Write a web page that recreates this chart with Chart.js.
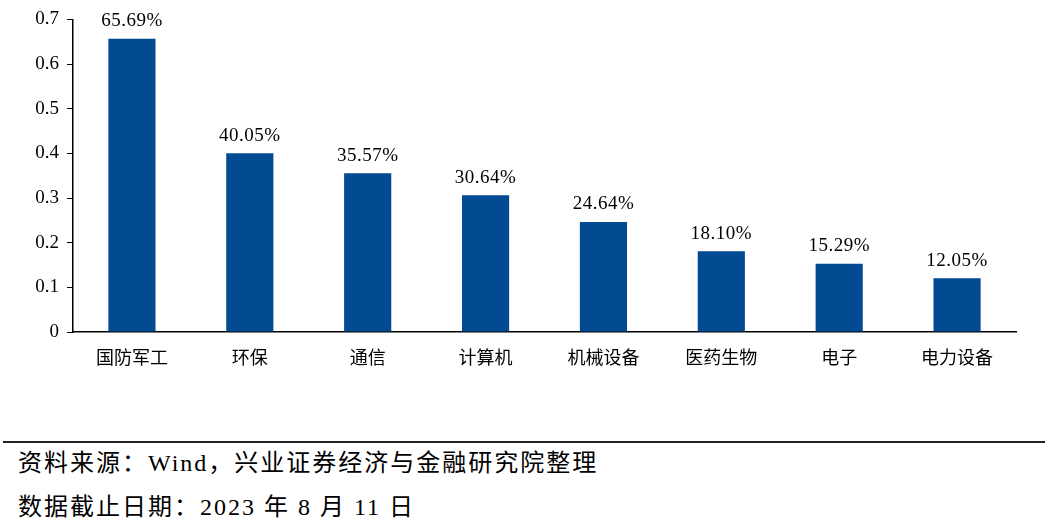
<!DOCTYPE html>
<html>
<head>
<meta charset="utf-8">
<script src="https://cdn.jsdelivr.net/npm/chart.js@4"></script>
<style>
  html, body { margin: 0; padding: 0; background: #fff; }
  body { width: 1063px; height: 524px; position: relative; overflow: hidden; }
  #wrap { position: absolute; left: 0; top: 0; width: 1063px; height: 380px; }
  #rule { position: absolute; left: 3px; top: 441px; width: 1042px; height: 0; border-top: 2px solid #222; }
  .note { position: absolute; left: 18px; font-family: "Liberation Serif", "Noto Sans CJK SC", serif; font-size: 24px; letter-spacing: 2px; line-height: 34px; color: #000; white-space: nowrap; }
</style>
</head>
<body>
<div id="wrap"><canvas id="chart"></canvas></div>
<div id="rule"></div>
<div class="note" style="top:446px">资料来源：Wind，兴业证券经济与金融研究院整理</div>
<div class="note" style="top:490px">数据截止日期：2023 年 8 月 11 日</div>
<script>
// categories and values
const industries = ['国防军工', '环保', '通信', '计算机', '机械设备', '医药生物', '电子', '电力设备'];
const gains = [0.6569, 0.4005, 0.3557, 0.3064, 0.2464, 0.1810, 0.1529, 0.1205];
const yTicks = [0, 0.1, 0.2, 0.3, 0.4, 0.5, 0.6, 0.7];

const BAR_BLUE = '#024a91';
const SERIF = '"Liberation Serif", "Times New Roman", serif';
const CJK = '"Noto Sans CJK SC", sans-serif';

// value labels above each bar
const barLabels = {
  id: 'barLabels',
  afterDatasetsDraw(chart) {
    const { ctx } = chart;
    const meta = chart.getDatasetMeta(0);
    ctx.save();
    ctx.font = '19px ' + SERIF;
    ctx.letterSpacing = '0.5px';
    ctx.fillStyle = '#000';
    ctx.textAlign = 'center';
    ctx.textBaseline = 'bottom';
    meta.data.forEach((bar, i) => {
      ctx.fillText((gains[i] * 100).toFixed(2) + '%', bar.x, bar.y - 8);
    });
    ctx.restore();
  }
};

new Chart(document.getElementById('chart').getContext('2d'), {
  type: 'bar',
  data: {
    labels: industries,
    datasets: [{
      data: gains,
      backgroundColor: BAR_BLUE,
      borderWidth: 0,
      categoryPercentage: 1,
      barPercentage: 0.4
    }]
  },
  options: {
    responsive: true, maintainAspectRatio: false,
    animation: false,
    layout: { padding: { top: 19, right: 47, left: 0, bottom: 0 } },
    plugins: { legend: { display: false }, tooltip: { enabled: false } },
    scales: {
      x: {
        grid: { display: false, drawTicks: false },
        border: { display: true, color: '#000', width: 1.5 },
        ticks: { color: '#000', font: { family: CJK, size: 18 }, padding: 14, maxRotation: 0 },
        afterFit: s => { s.height = 48; }
      },
      y: {
        min: 0, max: 0.7,
        afterBuildTicks: s => { s.ticks = yTicks.map(v => ({ value: v })); },
        grid: { drawOnChartArea: false, drawTicks: true, tickLength: 6, color: '#000' },
        border: { display: true, color: '#000', width: 1.5 },
        ticks: { color: '#000', font: { family: SERIF, size: 19 }, padding: 8, callback: v => String(v) },
        afterFit: s => { s.width = 73; }
      }
    }
  },
  plugins: [barLabels]
});
</script>
</body>
</html>
